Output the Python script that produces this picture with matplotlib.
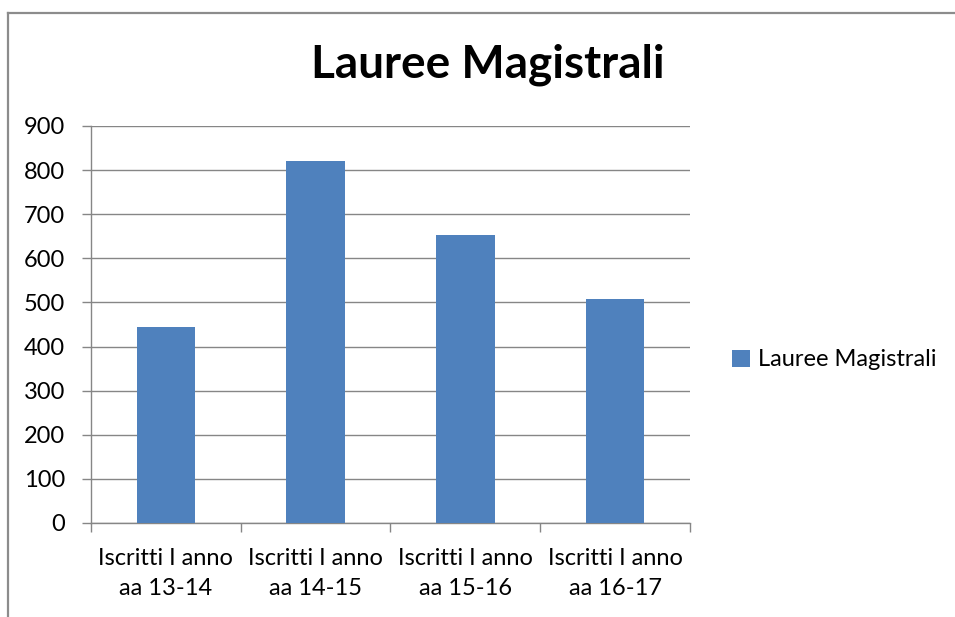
import matplotlib
matplotlib.use("Agg")
import matplotlib.pyplot as plt
from matplotlib.lines import Line2D

plt.rcParams['font.family'] = ['Lato', 'DejaVu Sans']

# dati
categorie = ["Iscritti I anno\naa 13-14", "Iscritti I anno\naa 14-15",
             "Iscritti I anno\naa 15-16", "Iscritti I anno\naa 16-17"]
iscritti = [445, 820, 653, 507]
serie = "Lauree Magistrali"
y_ticks = list(range(0, 901, 100))

blu = '#4F81BD'
grigio = '#868686'

fig = plt.figure(figsize=(9.55, 6.17), dpi=100)
ax = fig.add_axes([0.0953, 0.1524, 0.6272, 0.6434])

x = list(range(len(categorie)))
ax.bar(x, iscritti, width=0.39, color=blu, label=serie, zorder=3)

ax.set_xlim(-0.5, len(categorie) - 0.5)
ax.set_ylim(0, 900)
ax.set_yticks(y_ticks)
ax.yaxis.grid(True, color=grigio, linewidth=1, zorder=0)

ax.set_xticks(x)
ax.set_xticklabels(categorie, fontsize=17, linespacing=1.55)
ax.set_xticks([i - 0.5 for i in range(len(categorie) + 1)], minor=True)
ax.tick_params(axis='x', which='major', length=0, pad=18)
ax.tick_params(axis='x', which='minor', length=6.5, width=1, color=grigio, direction='out')
ax.tick_params(axis='y', length=6.5, width=1, color=grigio, labelsize=17, pad=12)

for s in ['top', 'right']:
    ax.spines[s].set_visible(False)
for s in ['left', 'bottom']:
    ax.spines[s].set_color(grigio)
    ax.spines[s].set_linewidth(1)

fig.text(488 / 955, 1 - 65 / 617, "Lauree Magistrali", fontsize=33, fontweight='bold',
         ha='center', va='center')

fig.legend(loc='center left', bbox_to_anchor=(732 / 955, 1 - 360 / 617), frameon=False,
           fontsize=17, handlelength=0.75, handleheight=0.75, handletextpad=0.35,
           borderaxespad=0, borderpad=0)

# bordo esterno del grafico (tagliato a destra e in basso)
fig.add_artist(Line2D([8 / 955, 1], [1 - 13 / 617, 1 - 13 / 617], color='#8c8c8c', linewidth=1.6,
                      transform=fig.transFigure))
fig.add_artist(Line2D([8 / 955, 8 / 955], [0, 1 - 13 / 617], color='#8c8c8c', linewidth=1.6,
                      transform=fig.transFigure))

fig.savefig("out.png", dpi=100)
